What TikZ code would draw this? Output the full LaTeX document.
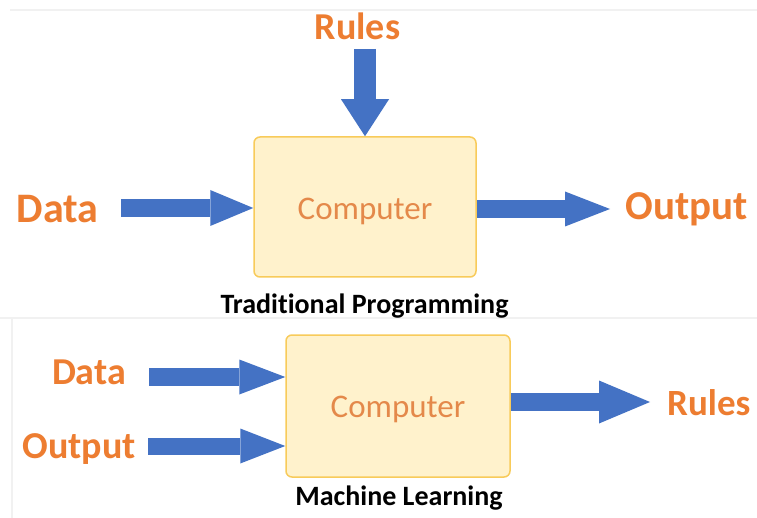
\documentclass[tikz,border=0pt]{standalone}
\usepackage{fontspec}
\setmainfont{Carlito}[Ligatures={NoCommon}]
\usetikzlibrary{arrows.meta}
\definecolor{orangetxt}{HTML}{ED7D31}
\definecolor{comptxt}{HTML}{E4894A}
\definecolor{arrowblue}{HTML}{4472C4}
\definecolor{boxfill}{HTML}{FFF2CC}
\definecolor{boxdraw}{HTML}{F8CB5A}
\definecolor{sepgray}{HTML}{F1F1F1}
\tikzset{
  lbl/.style={text=orangetxt, inner sep=0pt, font=\bfseries\fontsize{#1}{#1}\selectfont},
  comptext/.style={text=comptxt, inner sep=0pt, font=\fontsize{33}{33}\selectfont},
  caption/.style={text=black, inner sep=0pt, font=\bfseries\fontsize{28}{28}\selectfont},
  compbox/.style={draw=boxdraw, fill=boxfill, line width=1.5pt, rounded corners=6pt, inner sep=0pt},
  blockarrow/.style n args={3}{draw=arrowblue, line width=#1, line cap=butt,
    -{Triangle[length=#3, width=#2, line width=0pt, color=arrowblue]}},
  sepline/.style={draw=sepgray, line width=2pt}
}
\begin{document}
\begin{tikzpicture}[x=1pt, y=-1pt]
\useasboundingbox (0,0) rectangle (757,518);
\fill[white] (0,0) rectangle (757,518);
% faint separators
\draw[sepline] (10,10) -- (757,10);
\draw[sepline] (0,318) -- (757,318);
\draw[sepline, line width=1.5pt] (12,318) -- (12,518);

% ---------- Traditional Programming ----------
\node[compbox, minimum width=222pt, minimum height=140pt] (comp1) at (365,207) {};
\node[comptext, anchor=base] (c1t) at (365,220) {Computer};
\node[lbl=38, anchor=base] (rules1) at (357.5,40) {Rules};
\node[lbl=42, anchor=base] (data1) at (57.5,223) {Data};
\node[lbl=41, anchor=base] (out1) at (686.5,220) {Output};
\node[caption, anchor=base] (cap1) at (364.5,313) {Traditional Programming};

\coordinate (r1s) at (365,49);
\coordinate (d1s) at (121,208);
\coordinate (o1e) at (610,209);
\draw[blockarrow={22pt}{48pt}{37pt}] (r1s) -- (comp1.north);
\draw[blockarrow={18pt}{36pt}{43pt}] (d1s) -- (d1s -| comp1.west);
\draw[blockarrow={18pt}{35pt}{45pt}] (o1e -| comp1.east) -- (o1e);

% ---------- Machine Learning ----------
\node[compbox, minimum width=224pt, minimum height=142pt] (comp2) at (398,406) {};
\node[comptext, anchor=base] (c2t) at (398,417) {Computer};
\node[lbl=38, anchor=base] (data2) at (89,384) {Data};
\node[lbl=38, anchor=base east] (out2) at (136,458) {Output};
\node[lbl=37, anchor=base west] (rules2) at (667,415) {Rules};
\node[caption, anchor=base] (cap2) at (399,505) {Machine Learning};

\coordinate (d2s) at (149,377);
\coordinate (o2s) at (148,446);
\coordinate (r2e) at (650,402);
\draw[blockarrow={18pt}{35pt}{46pt}] (d2s) -- (d2s -| comp2.west);
\draw[blockarrow={17pt}{35pt}{45pt}] (o2s) -- (o2s -| comp2.west);
\draw[blockarrow={18pt}{43pt}{51pt}] (r2e -| comp2.east) -- (r2e);
\end{tikzpicture}
\end{document}
